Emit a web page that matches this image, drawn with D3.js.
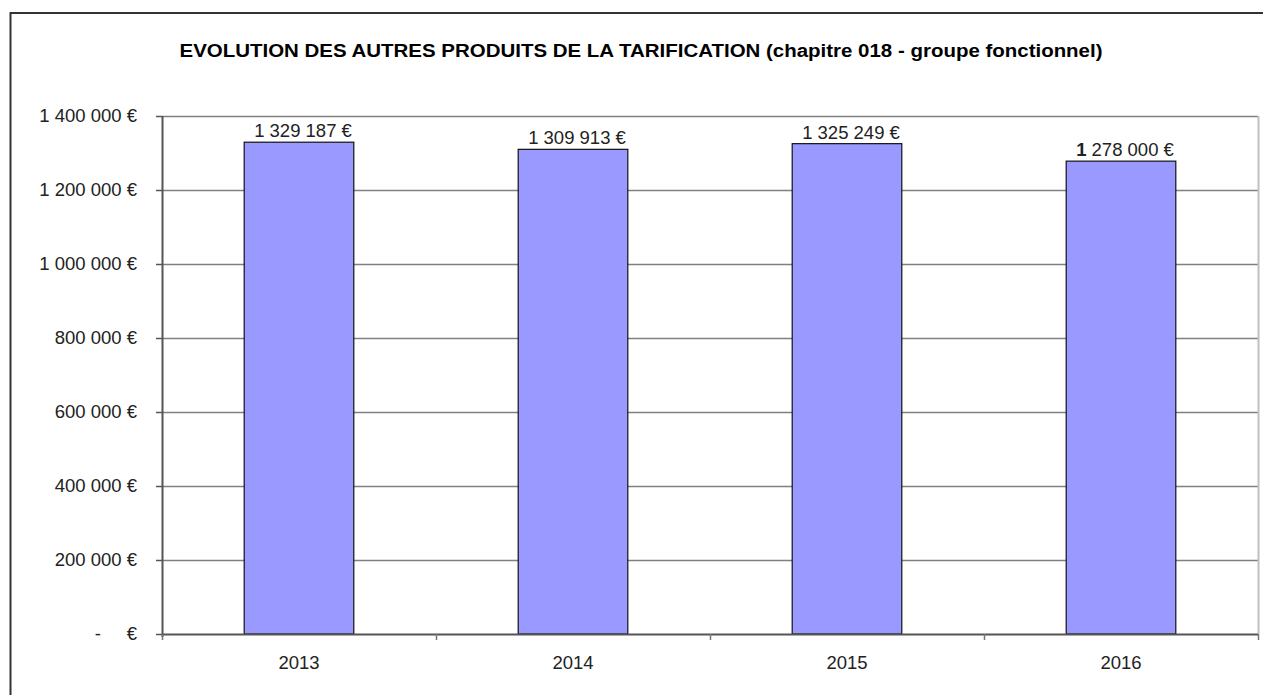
<!DOCTYPE html>
<html>
<head>
<meta charset="utf-8">
<script src="https://cdn.jsdelivr.net/npm/d3@7"></script>
<style>
  body { margin: 0; background: #fff; }
  svg { display: block; font-family: "Liberation Sans", Arial, sans-serif; }
</style>
</head>
<body>
<div id="wrapper"></div>
<script>
// ---------- DATA ----------
const years = ["2013", "2014", "2015", "2016"];
const amounts = [1329187, 1309913, 1325249, 1278000];
const yTicks = [0, 200000, 400000, 600000, 800000, 1000000, 1200000, 1400000];
const chartTitle = "EVOLUTION DES AUTRES PRODUITS DE LA TARIFICATION (chapitre 018 - groupe fonctionnel)";

// ---------- DIMENSIONS ----------
const dimensions = {
  width: 1263,
  height: 695,
  margin: { top: 116, right: 5, bottom: 61, left: 162 },
};
dimensions.boundedWidth = dimensions.width - dimensions.margin.left - dimensions.margin.right;
dimensions.boundedHeight = dimensions.height - dimensions.margin.top - dimensions.margin.bottom;

const labelSize = 18.5;

const svg = d3.select("#wrapper")
  .append("svg")
  .attr("width", dimensions.width)
  .attr("height", dimensions.height);

// outer frame (runs off the right and bottom edges)
svg.append("rect")
  .attr("x", 10.5).attr("y", 13)
  .attr("width", dimensions.width + 20)
  .attr("height", dimensions.height + 20)
  .attr("fill", "none")
  .attr("stroke", "#333")
  .attr("stroke-width", 2);

// title
svg.append("text")
  .attr("x", 641)
  .attr("y", 57)
  .attr("text-anchor", "middle")
  .attr("font-size", 18)
  .attr("font-weight", "bold")
  .attr("textLength", 923)
  .attr("lengthAdjust", "spacingAndGlyphs")
  .attr("fill", "#000")
  .text(chartTitle);

const bounds = svg.append("g")
  .style("transform", `translate(${dimensions.margin.left}px, ${dimensions.margin.top}px)`);

// ---------- SCALES ----------
const xScale = d3.scaleBand()
  .domain(years)
  .range([0, dimensions.boundedWidth])
  .paddingInner(0.6)
  .paddingOuter(0.3);

const yScale = d3.scaleLinear()
  .domain([0, 1400000])
  .range([dimensions.boundedHeight, 0]);

const euroLocale = d3.formatLocale({
  decimal: ",",
  thousands: "\u00a0",
  grouping: [3],
  currency: ["", "\u00a0€"],
});
const fmt = euroLocale.format("$,.0f");
const tickFormat = (d) => d === 0 ? "-\u00a0\u00a0\u00a0\u00a0\u00a0€" : fmt(d);

// ---------- GRID + FRAME ----------
bounds.append("g")
  .selectAll("line")
  .data(yTicks.filter((d) => d > 0))
  .join("line")
  .attr("x1", 0)
  .attr("x2", dimensions.boundedWidth)
  .attr("y1", (d) => Math.round(yScale(d)) + 0.5)
  .attr("y2", (d) => Math.round(yScale(d)) + 0.5)
  .attr("stroke", "#808080")
  .attr("stroke-width", 1.5);

bounds.append("line")
  .attr("x1", dimensions.boundedWidth + 0.5)
  .attr("x2", dimensions.boundedWidth + 0.5)
  .attr("y1", 0)
  .attr("y2", dimensions.boundedHeight)
  .attr("stroke", "#c0c0c0")
  .attr("stroke-width", 2);

// ---------- BARS ----------
bounds.append("g")
  .selectAll("rect")
  .data(amounts)
  .join("rect")
  .attr("x", (d, i) => xScale(years[i]))
  .attr("y", (d) => yScale(d))
  .attr("width", xScale.bandwidth())
  .attr("height", (d) => dimensions.boundedHeight - yScale(d))
  .attr("fill", "#9999ff")
  .attr("stroke", "#111")
  .attr("stroke-width", 1.2);

// value labels (the last one has its leading digit in bold, as in the source)
const boldFirst = [false, false, false, true];
const labels = bounds.append("g")
  .selectAll("text")
  .data(amounts)
  .join("text")
  .attr("x", (d, i) => xScale(years[i]) + xScale.bandwidth() / 2 + 4)
  .attr("y", (d) => yScale(d) - 5)
  .attr("text-anchor", "middle")
  .attr("font-size", labelSize)
  .attr("fill", "#222");
labels.append("tspan")
  .attr("font-weight", (d, i) => boldFirst[i] ? "bold" : "normal")
  .text((d) => fmt(d).charAt(0));
labels.append("tspan")
  .text((d) => fmt(d).slice(1));

// ---------- AXES ----------
const yAxis = bounds.append("g")
  .call(d3.axisLeft(yScale).tickValues(yTicks).tickFormat(tickFormat).tickSize(6).tickPadding(19));
yAxis.select(".domain")
  .attr("d", `M0.5,0V${dimensions.boundedHeight + 3}`)
  .attr("stroke", "#555")
  .attr("stroke-width", 2);
yAxis.selectAll(".tick line").attr("stroke", "#555").attr("stroke-width", 1.5);
yAxis.selectAll(".tick text")
  .attr("font-size", labelSize)
  .attr("fill", "#222")
  .attr("font-family", "Liberation Sans, Arial, sans-serif");

const xAxis = bounds.append("g")
  .style("transform", `translateY(${dimensions.boundedHeight}px)`)
  .call(d3.axisBottom(xScale).tickSize(0).tickPadding(22));
xAxis.select(".domain").remove();
xAxis.selectAll(".tick text")
  .attr("font-size", labelSize)
  .attr("fill", "#222")
  .attr("font-family", "Liberation Sans, Arial, sans-serif");

// baseline and category separators
xAxis.append("line")
  .attr("x1", 0).attr("x2", dimensions.boundedWidth)
  .attr("y1", 0.5).attr("y2", 0.5)
  .attr("stroke", "#555").attr("stroke-width", 2);
const step = xScale.step();
xAxis.append("g")
  .selectAll("line")
  .data(d3.range(years.length + 1))
  .join("line")
  .attr("x1", (i) => Math.min(i * step, dimensions.boundedWidth) + 0.5)
  .attr("x2", (i) => Math.min(i * step, dimensions.boundedWidth) + 0.5)
  .attr("y1", 0).attr("y2", 6)
  .attr("stroke", "#777").attr("stroke-width", 1.5);
</script>
</body>
</html>
